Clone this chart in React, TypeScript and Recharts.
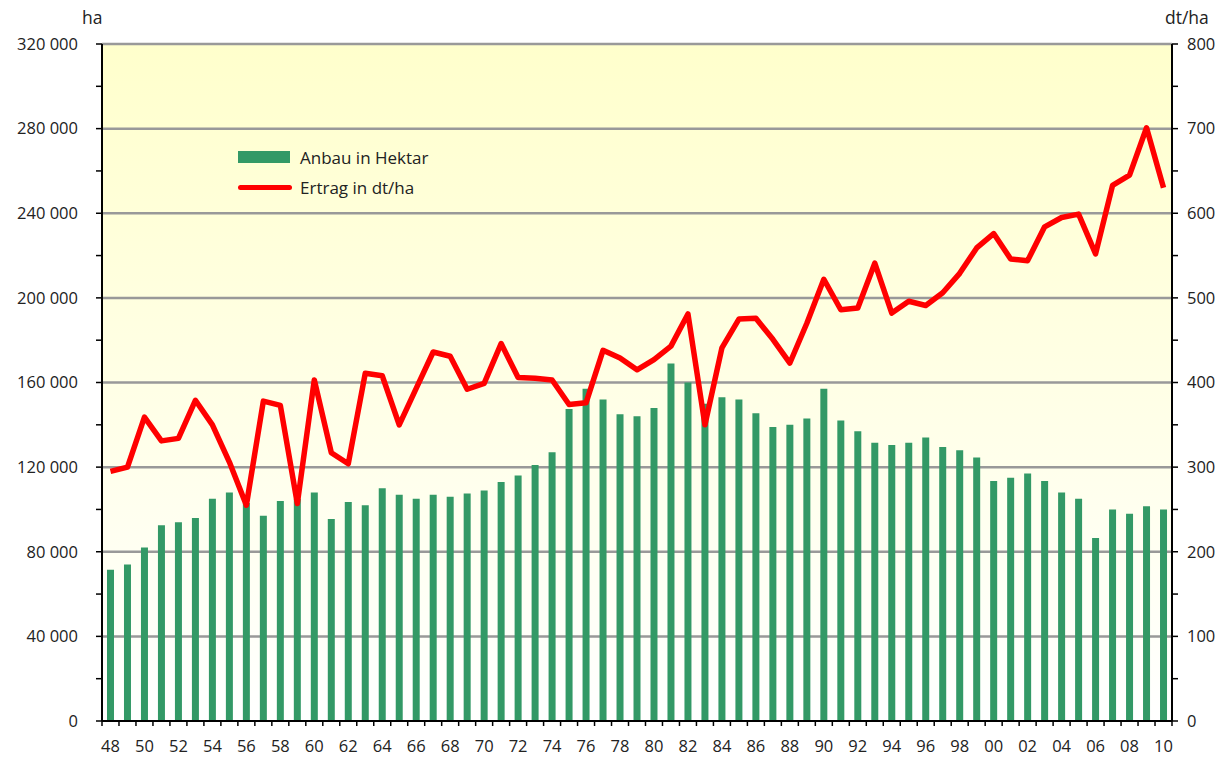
import { ComposedChart, Bar, Line, XAxis, YAxis, CartesianGrid } from "recharts";

const years = [
  "48", "49", "50", "51", "52", "53", "54", "55", "56", "57", "58", "59",
  "60", "61", "62", "63", "64", "65", "66", "67", "68", "69",
  "70", "71", "72", "73", "74", "75", "76", "77", "78", "79",
  "80", "81", "82", "83", "84", "85", "86", "87", "88", "89",
  "90", "91", "92", "93", "94", "95", "96", "97", "98", "99",
  "00", "01", "02", "03", "04", "05", "06", "07", "08", "09", "10",
];

// Anbau in Hektar
const anbau = [
  71500, 74000, 82000, 92500, 94000, 96000, 105000, 108000, 103000, 97000, 104000, 105000,
  108000, 95500, 103500, 102000, 110000, 107000, 105000, 107000, 106000, 107500,
  109000, 113000, 116000, 121000, 127000, 147500, 157000, 152000, 145000, 144000,
  148000, 169000, 160000, 150000, 153000, 152000, 145500, 139000, 140000, 143000,
  157000, 142000, 137000, 131500, 130500, 131500, 134000, 129500, 128000, 124500,
  113500, 115000, 117000, 113500, 108000, 105000, 86500, 100000, 98000, 101500, 100000,
];

// Ertrag in dt/ha
const ertrag = [
  295, 300, 359, 331, 334, 379, 350, 306, 255, 378, 373, 257,
  403, 317, 304, 411, 408, 350, 393, 436, 431, 392,
  399, 446, 406, 405, 403, 374, 376, 438, 429, 415,
  427, 443, 481, 350, 441, 475, 476, 451, 423, 470,
  522, 486, 488, 541, 482, 496, 491, 506, 529, 559,
  576, 546, 544, 584, 595, 599, 552, 633, 645, 701, 630,
];

const leftTicks = [
  0, 20000, 40000, 60000, 80000, 100000, 120000, 140000, 160000,
  180000, 200000, 220000, 240000, 260000, 280000, 300000, 320000,
];
const rightTicks = [0, 50, 100, 150, 200, 250, 300, 350, 400, 450, 500, 550, 600, 650, 700, 750, 800];
const gridValues = [40000, 80000, 120000, 160000, 200000, 240000, 280000, 320000];

const data = years.map((year, i) => ({ year, anbau: anbau[i], ertrag: ertrag[i] }));

const W = 1229;
const H = 758;
const LEFT_W = 102;
const RIGHT_W = 57;
const TOP = 44;
const X_H = 37;
const BAND = (W - LEFT_W - RIGHT_W) / years.length;

const FONT = "'Open Sans', 'Noto Sans', sans-serif";
const TEXT = "#222";

const fmtHa = (v: number) => (v === 0 ? "0" : `${v / 1000} 000`);

function LeftTick({ x, y, payload }: any) {
  const major = payload.value % 40000 === 0;
  return (
    <g>
      <line x1={x - 6} x2={x} y1={y} y2={y} stroke="#000" strokeWidth={1.5} />
      {major && (
        <text x={x - 24} y={y} dy="0.35em" textAnchor="end" fontSize={16.5} fill={TEXT}>
          {fmtHa(payload.value)}
        </text>
      )}
    </g>
  );
}

function RightTick({ x, y, payload }: any) {
  const major = payload.value % 100 === 0;
  return (
    <g>
      <line x1={x} x2={x + 6} y1={y} y2={y} stroke="#000" strokeWidth={1.5} />
      {major && (
        <text x={x + 15} y={y} dy="0.35em" textAnchor="start" fontSize={16.5} fill={TEXT}>
          {payload.value}
        </text>
      )}
    </g>
  );
}

function BottomTick({ x, y, payload, index }: any) {
  const last = index === years.length - 1;
  return (
    <g>
      <line x1={x - BAND / 2} x2={x - BAND / 2} y1={y} y2={y + 5} stroke="#000" strokeWidth={1.5} />
      {last && <line x1={x + BAND / 2} x2={x + BAND / 2} y1={y} y2={y + 5} stroke="#000" strokeWidth={1.5} />}
      {index % 2 === 0 && (
        <text x={x} y={y + 31} textAnchor="middle" fontSize={16.5} fill={TEXT}>
          {payload.value}
        </text>
      )}
    </g>
  );
}

export default function App() {
  return (
    <div style={{ position: "absolute", left: 0, top: 0, width: W, height: H, fontFamily: FONT, background: "#fff" }}>
      <ComposedChart width={W} height={H} data={data} margin={{ top: TOP, right: 0, bottom: 0, left: 0 }}>
        <defs>
          <linearGradient id="bg" x1="0" y1="0" x2="0" y2="1">
            <stop offset="0%" stopColor="#ffffcc" />
            <stop offset="100%" stopColor="#ffffff" />
          </linearGradient>
        </defs>
        <CartesianGrid
          yAxisId="left"
          vertical={false}
          horizontalValues={gridValues}
          stroke="#999"
          strokeWidth={2.5}
          fill="url(#bg)"
          fillOpacity={1}
        />
        <XAxis
          dataKey="year"
          height={X_H}
          interval={0}
          tickLine={false}
          tickSize={0}
          tickMargin={0}
          axisLine={{ stroke: "#000", strokeWidth: 2 }}
          tick={<BottomTick />}
        />
        <YAxis
          yAxisId="left"
          orientation="left"
          width={LEFT_W}
          domain={[0, 320000]}
          ticks={leftTicks}
          interval={0}
          tickLine={false}
          tickSize={0}
          tickMargin={0}
          axisLine={{ stroke: "#000", strokeWidth: 2 }}
          tick={<LeftTick />}
        />
        <YAxis
          yAxisId="right"
          orientation="right"
          width={RIGHT_W}
          domain={[0, 800]}
          ticks={rightTicks}
          interval={0}
          tickLine={false}
          tickSize={0}
          tickMargin={0}
          axisLine={{ stroke: "#000", strokeWidth: 2 }}
          tick={<RightTick />}
        />
        <Bar yAxisId="left" dataKey="anbau" fill="#339966" barSize={7} isAnimationActive={false} />
        <Line
          yAxisId="right"
          dataKey="ertrag"
          type="linear"
          stroke="#ff0000"
          strokeWidth={5.5}
          strokeLinejoin="round"
          dot={false}
          activeDot={false}
          isAnimationActive={false}
        />
      </ComposedChart>

      {/* axis units */}
      <div style={{ position: "absolute", left: 82, top: 5, fontSize: 17.5, color: TEXT }}>ha</div>
      <div style={{ position: "absolute", left: 1165, top: 5, fontSize: 17.5, color: TEXT }}>dt/ha</div>

      {/* legend */}
      <div style={{ position: "absolute", left: 238, top: 144, fontSize: 17, color: TEXT }}>
        <div style={{ display: "flex", alignItems: "center", height: 26 }}>
          <span style={{ width: 52, height: 12, background: "#339966", display: "inline-block" }} />
          <span style={{ marginLeft: 10 }}>Anbau in Hektar</span>
        </div>
        <div style={{ display: "flex", alignItems: "center", height: 26, marginTop: 4 }}>
          <span style={{ width: 54, height: 5, background: "#ff0000", borderRadius: 3, display: "inline-block" }} />
          <span style={{ marginLeft: 8 }}>Ertrag in dt/ha</span>
        </div>
      </div>
    </div>
  );
}
